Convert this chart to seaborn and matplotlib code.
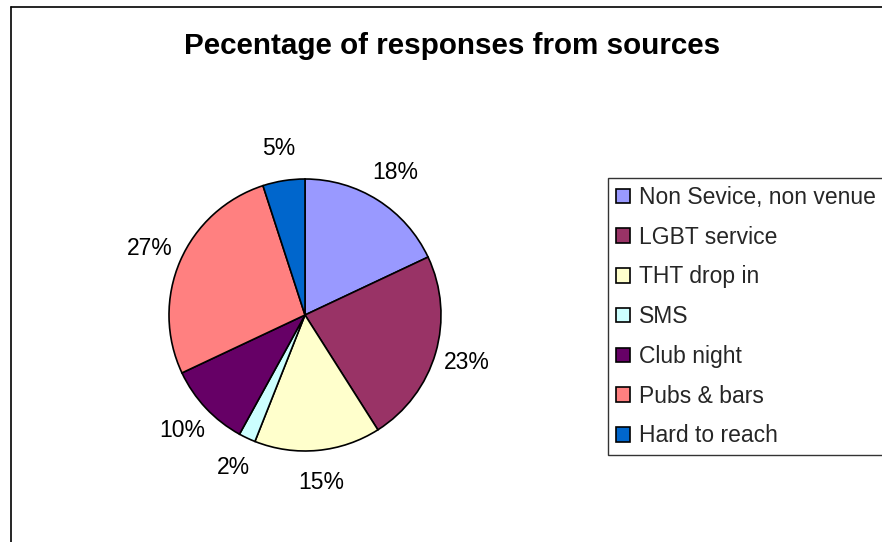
import matplotlib
matplotlib.use("Agg")
import matplotlib.pyplot as plt
from matplotlib.lines import Line2D
import seaborn as sns

# Response sources and their share of responses (percent)
sources = ["Non Sevice, non venue", "LGBT service", "THT drop in", "SMS",
           "Club night", "Pubs & bars", "Hard to reach"]
shares = [18, 23, 15, 2, 10, 27, 5]
slice_colors = ["#9999FF", "#993366", "#FFFFCC", "#CCFFFF",
                "#660066", "#FF8080", "#0066CC"]
title = "Pecentage of responses from sources"

sns.set_theme(style="white")
plt.rcParams["font.family"] = ["Liberation Sans", "DejaVu Sans"]
palette = sns.color_palette(slice_colors)

W, H = 882, 542
fig = plt.figure(figsize=(W / 100, H / 100), dpi=100)
fig.patch.set_facecolor("white")

# pie axes: centre (305, 315) px, radius 136 px
cx, cy, r = 305, 315, 136
ax = fig.add_axes([(cx - r) / W, (H - cy - r) / H, 2 * r / W, 2 * r / H])
wedges, texts, autotexts = ax.pie(
    shares, colors=palette, startangle=90, counterclock=False,
    autopct="%1.0f%%", pctdistance=1.24, radius=1.0,
    wedgeprops=dict(edgecolor="black", linewidth=1.2),
    textprops=dict(fontsize=16.5, color="black"),
)
ax.set_xlim(-1, 1)
ax.set_ylim(-1, 1)
ax.set_aspect("equal")
ax.axis("off")

fig.text(452 / W, 1 - 46 / H, title, ha="center", va="center",
         fontsize=21.3, fontweight="bold", color="black")

leg = fig.legend(wedges, sources, loc="upper left",
                 bbox_to_anchor=(608 / W, 1 - 178 / H),
                 frameon=True, fancybox=False, shadow=False,
                 fontsize=16.5, handlelength=0.6, handleheight=0.6,
                 handletextpad=0.4, labelspacing=0.73,
                 borderpad=0.35, borderaxespad=0.0)
leg.get_frame().set_edgecolor("black")
leg.get_frame().set_linewidth(1.0)

# chart-area border (left and top edges)
fig.add_artist(Line2D([10.5 / W, 10.5 / W], [0, 1 - 7 / H],
                      transform=fig.transFigure, color="black", lw=1.2))
fig.add_artist(Line2D([10.5 / W, 1], [1 - 7 / H, 1 - 7 / H],
                      transform=fig.transFigure, color="black", lw=1.2))

fig.savefig("out.png", dpi=100, facecolor="white")
